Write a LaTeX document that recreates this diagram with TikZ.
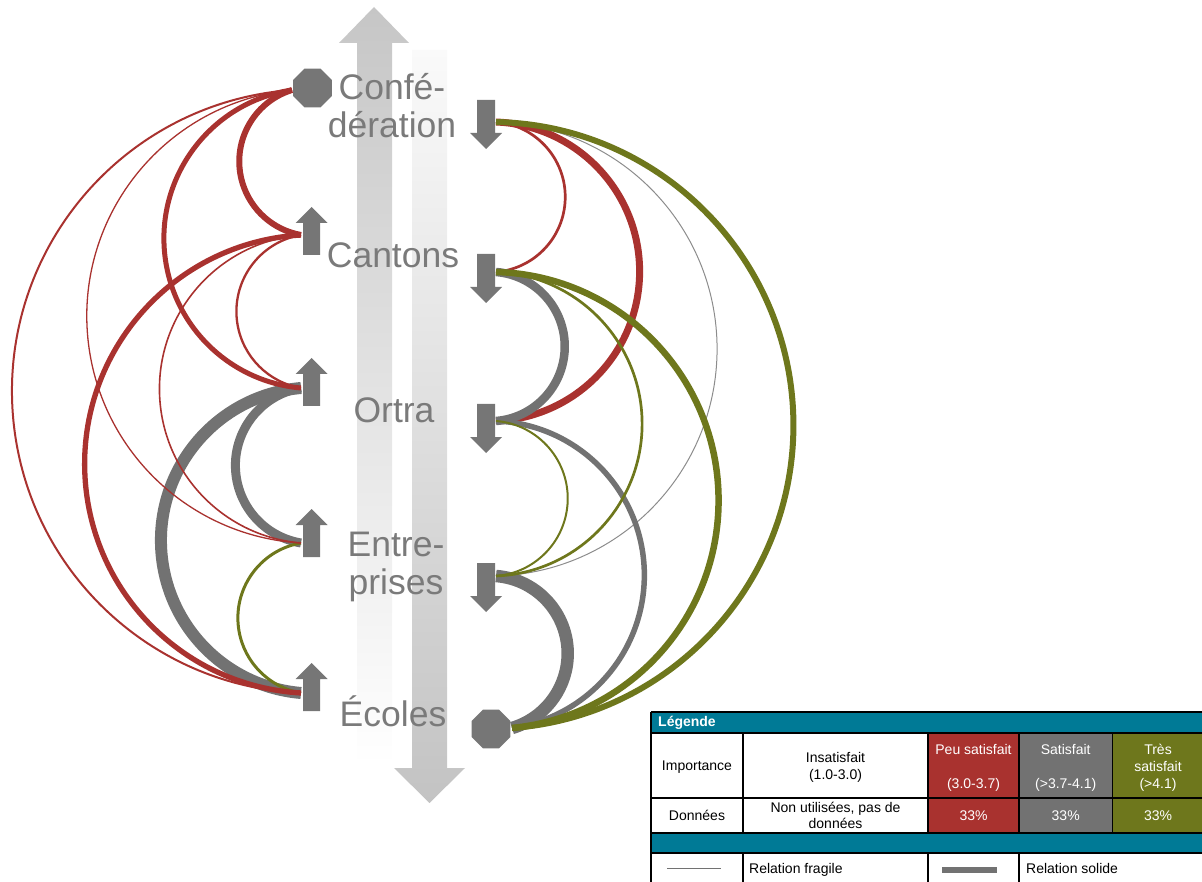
\documentclass[tikz,border=0pt]{standalone}
\usepackage{fontspec}
\setmainfont{Liberation Sans}
\usetikzlibrary{shapes.geometric,calc}
\definecolor{cRed}{RGB}{169,50,47}
\definecolor{cGray}{RGB}{114,114,114}
\definecolor{cGrayL}{RGB}{140,140,140}
\definecolor{cOlive}{RGB}{110,119,28}
\definecolor{cTeal}{RGB}{0,122,150}
\definecolor{cSym}{RGB}{118,118,118}
\definecolor{cTxt}{RGB}{122,122,122}
\definecolor{bigTop}{RGB}{198,198,198}
\definecolor{bigMid}{RGB}{210,210,210}
\definecolor{bigRbot}{RGB}{195,195,195}
\definecolor{bigRmid}{RGB}{226,226,226}
\definecolor{bigRtop}{RGB}{250,250,250}
\newcommand\stk[1]{\vtop{\halign{\hfil##\hfil\cr#1\crcr}}}
% arc bulging to the left, circle centre at x=314
\newcommand\arcL[3]{%
  \draw[#1] let \p1=(#2), \p2=(#3),
    \n1={0.5*(\y1+\y2)+((\x1-314)*(\x1-314)-(\x2-314)*(\x2-314))/(2*(\y1-\y2))},
    \n2={veclen(\x1-314,\y1-\n1)},
    \n3={atan2(\y1-\n1,\x1-314)},
    \n4={atan2(\y2-\n1,\x2-314)+360}
  in (#2) arc[start angle=\n3,end angle=\n4,radius=\n2];}
% arc bulging to the right, circle centre at x=490
\newcommand\arcR[3]{%
  \draw[#1] let \p1=(#2), \p2=(#3),
    \n1={0.5*(\y1+\y2)+((\x1-490)*(\x1-490)-(\x2-490)*(\x2-490))/(2*(\y1-\y2))},
    \n2={veclen(\x1-490,\y1-\n1)},
    \n3={atan2(\y1-\n1,\x1-490)},
    \n4={atan2(\y2-\n1,\x2-490)}
  in (#2) arc[start angle=\n3,end angle=\n4,radius=\n2];}
\tikzset{
  uparr/.pic={\fill[cSym] (0,0) -- (16,-16) -- (8.5,-16) -- (8.5,-48) -- (-8.5,-48) -- (-8.5,-16) -- (-16,-16) -- cycle;},
  dnarr/.pic={\fill[cSym] (0,0) -- (16,16) -- (9,16) -- (9,49) -- (-9,49) -- (-9,16) -- (-16,16) -- cycle;},
  octo/.style={regular polygon, regular polygon sides=8, fill=cSym, minimum size=42pt, inner sep=0pt},
  lbl/.style={font=\fontsize{35.5}{38}\selectfont, text=cTxt, inner sep=0pt},
  leg/.style={font=\fontsize{14}{17}\selectfont, inner sep=0pt},
  legw/.style={leg, text=white},
  grid/.style={black, line width=1.6pt}
}
\begin{document}
\begin{tikzpicture}[x=1pt,y=1pt]
\useasboundingbox (0,0) rectangle (1202,-882);
\clip (0,0) rectangle (1202,-882);
% big vertical arrows
\shade[top color=bigTop, middle color=bigMid, bottom color=white]
  (374,-7) -- (409,-43) -- (392,-43) -- (392,-765) -- (357,-765) -- (357,-43) -- (339,-43) -- cycle;
\shade[top color=bigRtop, middle color=bigRmid, bottom color=bigRbot]
  (412,-50) -- (447,-50) -- (447,-768) -- (465,-768) -- (429.5,-803) -- (394,-768) -- (412,-768) -- cycle;
% anchors
\coordinate (cfL) at (292,-90);
\coordinate (caL) at (301,-235);
\coordinate (orL) at (301,-388);
\coordinate (enL) at (301,-543);
\coordinate (ecL) at (301,-693);
\coordinate (cfR) at (496,-122);
\coordinate (caR) at (496,-272);
\coordinate (orR) at (496,-421);
\coordinate (enR) at (496,-576);
\coordinate (ecR) at (512,-728);
% left arcs
\arcL{cGray,line width=9pt}{orL}{enL}
\arcL{cGray,line width=12pt}{orL}{ecL}
\arcL{cOlive,line width=3pt}{enL}{ecL}
\arcL{cRed,line width=6pt}{cfL}{caL}
\arcL{cRed,line width=5pt}{cfL}{orL}
\arcL{cRed,line width=1.3pt}{cfL}{enL}
\arcL{cRed,line width=2pt}{cfL}{ecL}
\arcL{cRed,line width=2.3pt}{caL}{orL}
\arcL{cRed,line width=1.6pt}{caL}{enL}
\arcL{cRed,line width=5.3pt}{caL}{ecL}
% right arcs
\arcR{cRed,line width=2.7pt}{cfR}{caR}
\arcR{cRed,line width=7pt}{cfR}{orR}
\arcR{cGrayL,line width=1pt}{cfR}{enR}
\arcR{cGray,line width=8.5pt}{caR}{orR}
\arcR{cGray,line width=5.5pt}{orR}{ecR}
\arcR{cGray,line width=12.5pt}{enR}{ecR}
\arcR{cOlive,line width=2.7pt}{caR}{enR}
\arcR{cOlive,line width=2pt}{orR}{enR}
\arcR{cOlive,line width=6.5pt}{caR}{ecR}
\arcR{cOlive,line width=6pt}{cfR}{ecR}
% symbols
\node[octo] (oCf) at (312.5,-88) {};
\node[octo] (oEc) at (491,-729) {};
\pic (uCa) at (311.5,-207) {uparr};
\pic (uOr) at (311.5,-358) {uparr};
\pic (uEn) at (311.5,-509) {uparr};
\pic (uEc) at (311.5,-663) {uparr};
\pic (dCf) at (486,-149) {dnarr};
\pic (dCa) at (486,-303) {dnarr};
\pic (dOr) at (486,-453) {dnarr};
\pic (dEn) at (486,-612) {dnarr};
% labels
\node[lbl, anchor=base] (tCf) at (392,-100) {\stk{Confé-\cr dération}};
\node[lbl, anchor=base] (tCa) at (393,-268) {Cantons};
\node[lbl, anchor=base] (tOr) at (394,-422) {Ortra};
\node[lbl, anchor=base] (tEn) at (396,-556) {\stk{Entre-\cr prises}};
\node[lbl, anchor=base] (tEc) at (393,-726) {Écoles};
% legend fills
\fill[cTeal] (650.75,-712) rectangle (1204,-733);
\fill[cRed] (928,-733) rectangle (1019,-833);
\fill[cGray] (1019,-733) rectangle (1112.5,-833);
\fill[cOlive] (1112.5,-733) rectangle (1204,-833);
\fill[cTeal] (650.75,-833) rectangle (1204,-853);
% legend grid
\draw[grid] (650.75,-712) -- (1204,-712);
\draw[grid] (650.75,-733) -- (1204,-733);
\draw[grid] (650.75,-798) -- (1204,-798);
\draw[grid] (650.75,-833) -- (1204,-833);
\draw[grid] (650.75,-853) -- (1204,-853);
\draw[grid] (650.75,-712) -- (650.75,-890);
\foreach \cx in {743,928,1019} {
  \draw[grid] (\cx,-733) -- (\cx,-833);
  \draw[grid] (\cx,-853) -- (\cx,-890);
}
\draw[grid] (1112.5,-733) -- (1112.5,-833);
% legend texts
\node[legw, font=\fontsize{14}{17}\selectfont\bfseries, anchor=base west] (lgT) at (658,-726) {Légende};
\node[leg, anchor=base] (lgImp) at (697,-770) {Importance};
\node[leg, anchor=base] (lgIns) at (835.5,-762) {\stk{Insatisfait\cr(1.0-3.0)}};
\node[legw, anchor=base] (lgPeu) at (973.5,-754) {\stk{Peu satisfait\cr\cr(3.0-3.7)}};
\node[legw, anchor=base] (lgSat) at (1065.7,-754) {\stk{Satisfait\cr\cr(>3.7-4.1)}};
\node[legw, anchor=base] (lgTres) at (1158,-754) {\stk{Très\cr satisfait\cr(>4.1)}};
\node[leg, anchor=base] (lgDon) at (697,-820) {Données};
\node[leg, anchor=base, font=\fontsize{14}{16}\selectfont] (lgNon) at (835.5,-812) {\stk{Non utilisées, pas de\cr données}};
\node[legw, anchor=base] (lgP1) at (973.5,-820) {33\%};
\node[legw, anchor=base] (lgP2) at (1065.7,-820) {33\%};
\node[legw, anchor=base] (lgP3) at (1158,-820) {33\%};
\coordinate (fragA) at (667,-868);
\coordinate (fragB) at (721,-868);
\draw[cGray, line width=1pt] (fragA) -- (fragB);
\coordinate (solA) at (942,-870);
\coordinate (solB) at (997,-870);
\draw[cGray, line width=6.5pt] (solA) -- (solB);
\node[leg, anchor=base west] (lgFr) at (749,-873) {Relation fragile};
\node[leg, anchor=base west] (lgSo) at (1026,-873) {Relation solide};
\end{tikzpicture}
\end{document}
